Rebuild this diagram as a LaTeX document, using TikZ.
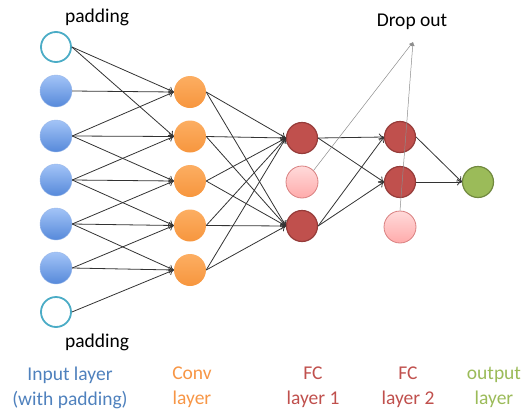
\documentclass[tikz,border=0pt]{standalone}
\usepackage{fontspec}
\setmainfont{Carlito}
\usetikzlibrary{arrows.meta}
\definecolor{inblue}{HTML}{4F81BD}
\definecolor{inlight}{HTML}{A3C4F7}
\definecolor{indark}{HTML}{5689DA}
\definecolor{padring}{HTML}{4BACC6}
\definecolor{convlight}{HTML}{FCAE62}
\definecolor{convdark}{HTML}{F7963E}
\definecolor{convtext}{HTML}{F79646}
\definecolor{fcred}{HTML}{C0504D}
\definecolor{fcborder}{HTML}{963C3A}
\definecolor{droplight}{HTML}{FFDADA}
\definecolor{dropdark}{HTML}{FFABAB}
\definecolor{dropborder}{HTML}{D98080}
\definecolor{outgreen}{HTML}{9BBB59}
\definecolor{outborder}{HTML}{71893F}

\begin{document}
\begin{tikzpicture}[x=1pt, y=-1pt,
    every node/.append style={font=\fontsize{19.5}{25}\selectfont},
    neuron/.style={circle, minimum size=32pt, inner sep=0pt},
    padnode/.style={neuron, draw=padring, line width=1.8pt, fill=white, minimum size=30pt},
    innode/.style={neuron, draw=indark!60, top color=inlight, bottom color=indark},
    convnode/.style={neuron, top color=convlight, bottom color=convdark},
    fcnode/.style={neuron, draw=fcborder, line width=1.2pt, fill=fcred, minimum size=31pt},
    offnode/.style={neuron, draw=dropborder, line width=0.8pt, top color=droplight, bottom color=dropdark},
    outnode/.style={neuron, draw=outborder, line width=1.2pt, fill=outgreen, minimum size=31pt},
    layername/.style={align=center},
    link/.style={-{To[length=5pt,width=7pt]}, black!80, line width=0.8pt},
    dropline/.style={-{Latex[length=4pt,width=4pt]}, black!45, line width=0.5pt}]
  \useasboundingbox (0,0) rectangle (523,410);

  % input layer with padding
  \node[padnode] (in0) at (56,47) {};
  \node[innode]  (in1) at (56,91) {};
  \node[innode]  (in2) at (56,136) {};
  \node[innode]  (in3) at (56,180) {};
  \node[innode]  (in4) at (56,224) {};
  \node[innode]  (in5) at (56,268) {};
  \node[padnode] (in6) at (56,312) {};
  \node (padtop) at (97,17) {padding};
  \node (padbot) at (97,342) {padding};

  % conv layer
  \node[convnode] (c0) at (190,92) {};
  \node[convnode] (c1) at (190,136.5) {};
  \node[convnode] (c2) at (190,181) {};
  \node[convnode] (c3) at (190,225.5) {};
  \node[convnode] (c4) at (190,270) {};

  % fully connected layers
  \node[fcnode]  (fa1) at (302,138) {};
  \node[offnode] (fa2) at (302,182) {};
  \node[fcnode]  (fa3) at (302,226) {};
  \node[fcnode]  (fb1) at (400,137) {};
  \node[fcnode]  (fb2) at (400,182) {};
  \node[offnode] (fb3) at (400,227) {};
  \node[outnode] (out) at (478,182) {};

  \foreach \a/\b in {0/0,0/1,1/0,2/0,2/1,2/2,3/1,3/2,3/3,4/2,4/3,4/4,5/3,5/4,6/4}
    \draw[link] (in\a.east) -- (c\b.west);
  \foreach \a in {0,...,4}
    \foreach \b in {1,3}
      \draw[link] (c\a.east) -- (fa\b.west);
  \foreach \a in {1,3}
    \foreach \b in {1,2}
      \draw[link] (fa\a.east) -- (fb\b.west);
  \draw[link] (fb1.east) -- (out.west);
  \draw[link] (fb2.east) -- (out.west);

  % dropped units
  \node (droptext) at (412,22) {Drop out};
  \coordinate (drop) at (413,42);
  \draw[dropline] (fa2.north east) -- (drop);
  \draw[dropline] (fb3.north) -- (drop);

  % layer names
  \node[layername, text=inblue] (inname) at (70,387.5) {Input layer\\(with padding)};
  \node[layername, text=convtext] (convname) at (192,387.5) {Conv\\layer};
  \node[layername, text=fcred] (fc1name) at (313,387.5) {FC\\layer 1};
  \node[layername, text=fcred] (fc2name) at (408,387.5) {FC\\layer 2};
  \node[layername, text=outgreen] (outname) at (494,387.5) {output\\layer};
\end{tikzpicture}
\end{document}
